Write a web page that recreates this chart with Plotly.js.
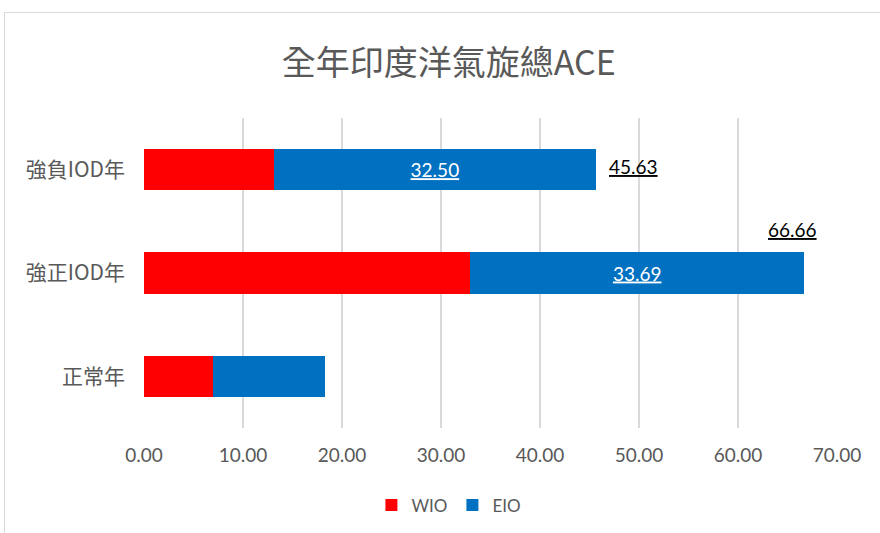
<!DOCTYPE html>
<html>
<head>
<meta charset="utf-8">
<script src="https://cdn.plot.ly/plotly-3.0.1.min.js"></script>
<style>
  html, body { margin: 0; padding: 0; background: #fff; }
  #chart { width: 880px; height: 533px; }
  #frame { position: absolute; left: 4px; top: 12px; width: 900px; height: 600px; border: 1px solid #d9d9d9; pointer-events: none; }
</style>
</head>
<body>
<div id="chart"></div>
<div id="frame"></div>
<script>
const categories = ['正常年', '強正IOD年', '強負IOD年'];
const wio = [7.00, 32.97, 13.13];
const eio = [11.32, 33.69, 32.50];
const eioLabels = ['', '33.69', '32.50'];
const totalLabels = ['', '66.66', '45.63'];
const tickVals = [0, 10, 20, 30, 40, 50, 60, 70];
const tickText = ['0.00', '10.00', '20.00', '30.00', '40.00', '50.00', '60.00', '70.00'];

const baseFont = 'Lato, "Noto Sans CJK TC", sans-serif';
const cjkFont = '"Noto Sans CJK TC", sans-serif';
const totals = wio.map((v, i) => v + eio[i]);

const traces = [
  {
    type: 'bar', orientation: 'h', name: 'WIO',
    y: categories, x: wio,
    marker: { color: '#ff0000' },
    hoverinfo: 'skip'
  },
  {
    type: 'bar', orientation: 'h', name: 'EIO',
    y: categories, x: eio,
    text: eioLabels, textposition: 'inside', insidetextanchor: 'middle',
    textfont: { color: '#ffffff', size: 19, family: baseFont, lineposition: 'under' },
    marker: { color: '#0070c0' },
    hoverinfo: 'skip'
  }
];

const annotations = [];
categories.forEach((c, i) => {
  if (!totalLabels[i]) return;
  if (i === 1) {
    annotations.push({
      x: totals[i], y: c, xref: 'x', yref: 'y', text: totalLabels[i],
      showarrow: false, xanchor: 'center', yanchor: 'middle', xshift: -11, yshift: 44,
      font: { size: 19, color: '#000000', family: baseFont, lineposition: 'under' }
    });
  } else {
    annotations.push({
      x: totals[i], y: c, xref: 'x', yref: 'y', text: totalLabels[i],
      showarrow: false, xanchor: 'left', yanchor: 'middle', xshift: 11, yshift: 3,
      font: { size: 19, color: '#000000', family: baseFont, lineposition: 'under' }
    });
  }
});

const layout = {
  width: 880, height: 533,
  margin: { l: 144, r: 43, t: 118, b: 105, autoexpand: false },
  paper_bgcolor: '#ffffff', plot_bgcolor: '#ffffff',
  barmode: 'stack', bargap: 0.6,
  title: {
    text: '全年印度洋氣旋總ACE',
    font: { family: cjkFont, size: 34, color: '#595959' },
    x: 0.51, xanchor: 'center', y: 0.882, yanchor: 'middle', yref: 'container'
  },
  xaxis: {
    range: [0, 70], tickvals: tickVals, ticktext: tickText,
    showgrid: true, gridcolor: '#d9d9d9', gridwidth: 1.5,
    zeroline: false, showline: false, ticks: '',
    tickangle: 0, automargin: false,
    ticklabelstandoff: 14,
    tickfont: { family: baseFont, size: 19, color: '#595959' },
    fixedrange: true
  },
  yaxis: {
    categoryorder: 'array', categoryarray: categories,
    showgrid: false, zeroline: false, showline: false, ticks: '',
    automargin: false,
    ticklabelstandoff: 18,
    tickfont: { family: cjkFont, size: 21, color: '#595959' },
    fixedrange: true
  },
  legend: {
    orientation: 'h', x: 0.44, xanchor: 'center',
    y: -0.25, yanchor: 'middle',
    font: { family: baseFont, size: 17, color: '#595959' },
    itemwidth: 30,
    traceorder: 'normal'
  },
  annotations: annotations,
  showlegend: true
};

Plotly.newPlot('chart', traces, layout, { displayModeBar: false, staticPlot: true });
</script>
</body>
</html>
